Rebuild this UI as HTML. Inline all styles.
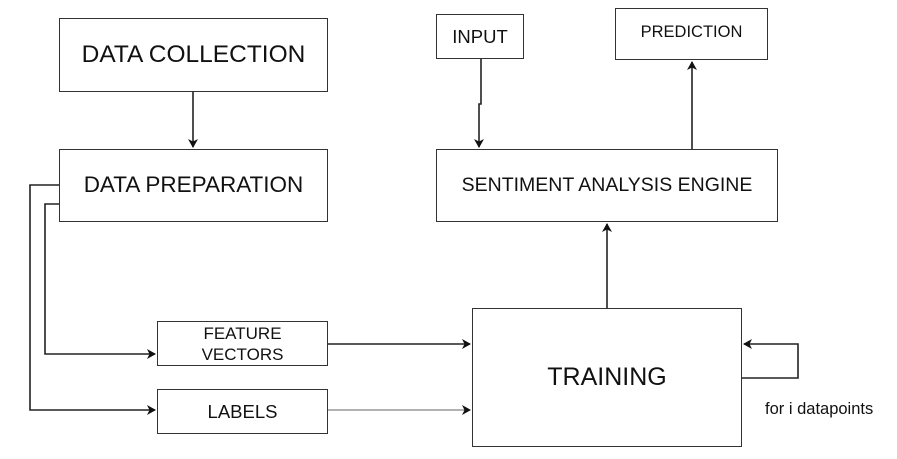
<!DOCTYPE html>
<html><head><style>
body{margin:0;background:#fff;width:897px;height:459px;overflow:hidden;font-family:"Liberation Sans",Arial,sans-serif}
.b{position:absolute;border:1.3px solid #333;box-sizing:border-box;display:flex;align-items:center;justify-content:center;text-align:center;color:#111;white-space:nowrap}
</style></head><body>
<div class="b" style="left:59px;top:18px;width:269px;height:74px;font-size:24.5px">DATA COLLECTION</div>
<div class="b" style="left:59px;top:149px;width:269px;height:73px;font-size:22.5px;align-items:flex-start;padding-top:22px">DATA PREPARATION</div>
<div class="b" style="left:157px;top:321px;width:171px;height:45px;font-size:17px;line-height:21px">FEATURE<br>VECTORS</div>
<div class="b" style="left:157px;top:389px;width:171px;height:45px;font-size:18.5px">LABELS</div>
<div class="b" style="left:472px;top:308px;width:270px;height:139px;font-size:25px">TRAINING</div>
<div class="b" style="left:436px;top:149px;width:342px;height:73px;font-size:19.5px">SENTIMENT ANALYSIS ENGINE</div>
<div class="b" style="left:436px;top:14px;width:88px;height:45px;font-size:18.5px">INPUT</div>
<div class="b" style="left:615px;top:8px;width:153px;height:52px;font-size:16.5px;align-items:flex-start;padding-top:14px">PREDICTION</div>
<div style="position:absolute;left:765px;top:400px;font-size:16.5px;color:#111">for i datapoints</div>
<svg width="897" height="459" style="position:absolute;left:0;top:0">
<defs><marker id="a" markerWidth="9" markerHeight="10" refX="8" refY="5" orient="auto" markerUnits="userSpaceOnUse"><path d="M0,0 L9,5 L0,10 L2.5,5z" fill="#111"/></marker></defs>
<g stroke="#222" stroke-width="1.6" fill="none">
<path d="M193,92 V147" marker-end="url(#a)"/>
<path d="M59,185 H30 V410 H155" marker-end="url(#a)"/>
<path d="M59,204 H45 V354 H155" marker-end="url(#a)"/>
<path d="M328,344 H470" marker-end="url(#a)"/>
<path d="M328,410 H470" stroke="#666" stroke-width="1" marker-end="url(#a)"/>
<path d="M607,308 V224" marker-end="url(#a)"/>
<path d="M481,59 V104 H479 V147" marker-end="url(#a)"/>
<path d="M692,149 V62" marker-end="url(#a)"/>
<path d="M742,378 H798 V344 H744" marker-end="url(#a)"/>
</g></svg>
</body></html>
